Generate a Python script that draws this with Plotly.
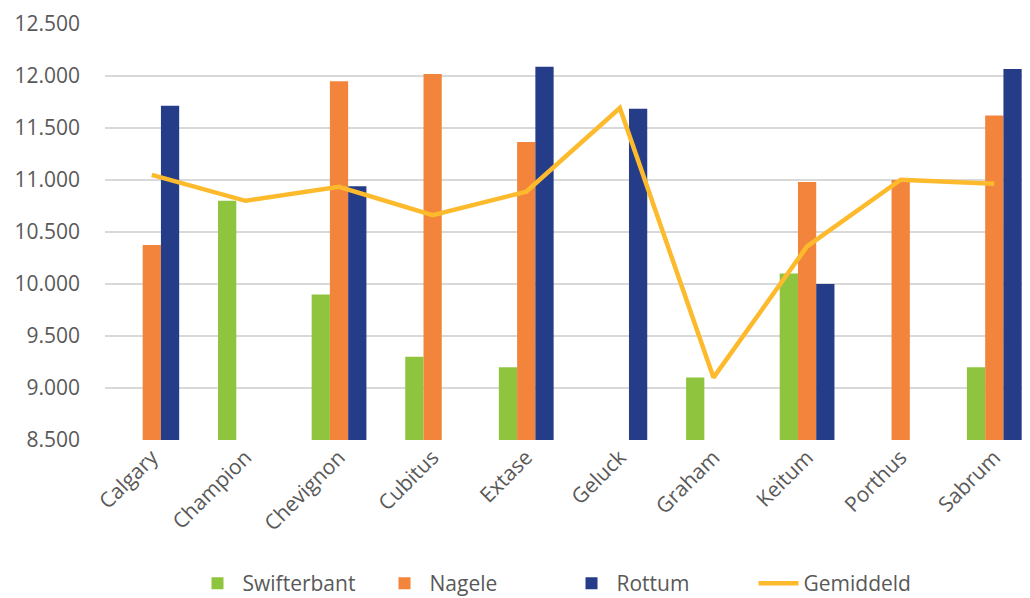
import plotly.graph_objects as go

categories = ["Calgary", "Champion", "Chevignon", "Cubitus", "Extase",
              "Geluck", "Graham", "Keitum", "Porthus", "Sabrum"]
swifterbant = [None, 10800, 9900, 9300, 9200, None, 9100, 10100, None, 9200]
nagele = [10375, None, 11950, 12020, 11365, None, None, 10980, 11000, 11620]
rottum = [11715, None, 10940, None, 12090, 11685, None, 10000, None, 12068]
gemiddeld = [11050, 10800, 10935, 10662, 10888, 11692, 9100, 10362, 11002, 10965]
y_ticks = [8500, 9000, 9500, 10000, 10500, 11000, 11500, 12000, 12500]

font_family = "Open Sans, Liberation Sans, sans-serif"
grey = "#595959"

fig = go.Figure()
fig.add_trace(go.Bar(name="Swifterbant", x=categories, y=swifterbant,
                     marker=dict(color="#8FC43F", line=dict(width=0))))
fig.add_trace(go.Bar(name="Nagele", x=categories, y=nagele,
                     marker=dict(color="#F3843B", line=dict(width=0))))
fig.add_trace(go.Bar(name="Rottum", x=categories, y=rottum,
                     marker=dict(color="#253C88", line=dict(width=0))))
fig.add_trace(go.Scatter(name="Gemiddeld", x=categories, y=gemiddeld,
                         mode="lines", line=dict(color="#FDBA2C", width=4.5)))

# page body has an 8px margin, so the figure is sized/offset to compensate
fig.update_layout(
    width=1022, height=590,
    margin=dict(l=97, r=2, t=16, b=158, autoexpand=False),
    barmode="group", bargap=0.415, bargroupgap=0,
    plot_bgcolor="white", paper_bgcolor="white",
    separators=",.",
    font=dict(family=font_family, color=grey, size=21),
    showlegend=True,
    legend=dict(orientation="h", x=0.5, xanchor="center", y=-0.345, yanchor="middle",
                font=dict(size=21, color=grey), itemwidth=40, traceorder="normal",
                entrywidth=132, entrywidthmode="pixels"),
    xaxis=dict(tickangle=-45, showgrid=False, ticks="", showline=False,
               range=[-0.5, 9.36], automargin=False,
               tickfont=dict(size=21, color=grey)),
    yaxis=dict(range=[8500, 12500], tickvals=y_ticks, tickformat=",d",
               showgrid=True, gridcolor="#D9D9D9", gridwidth=1.5,
               zeroline=False, showline=False, ticks="", automargin=False,
               ticklabelstandoff=24,
               tickfont=dict(size=21, color=grey)),
)

fig.write_html("out.html")
